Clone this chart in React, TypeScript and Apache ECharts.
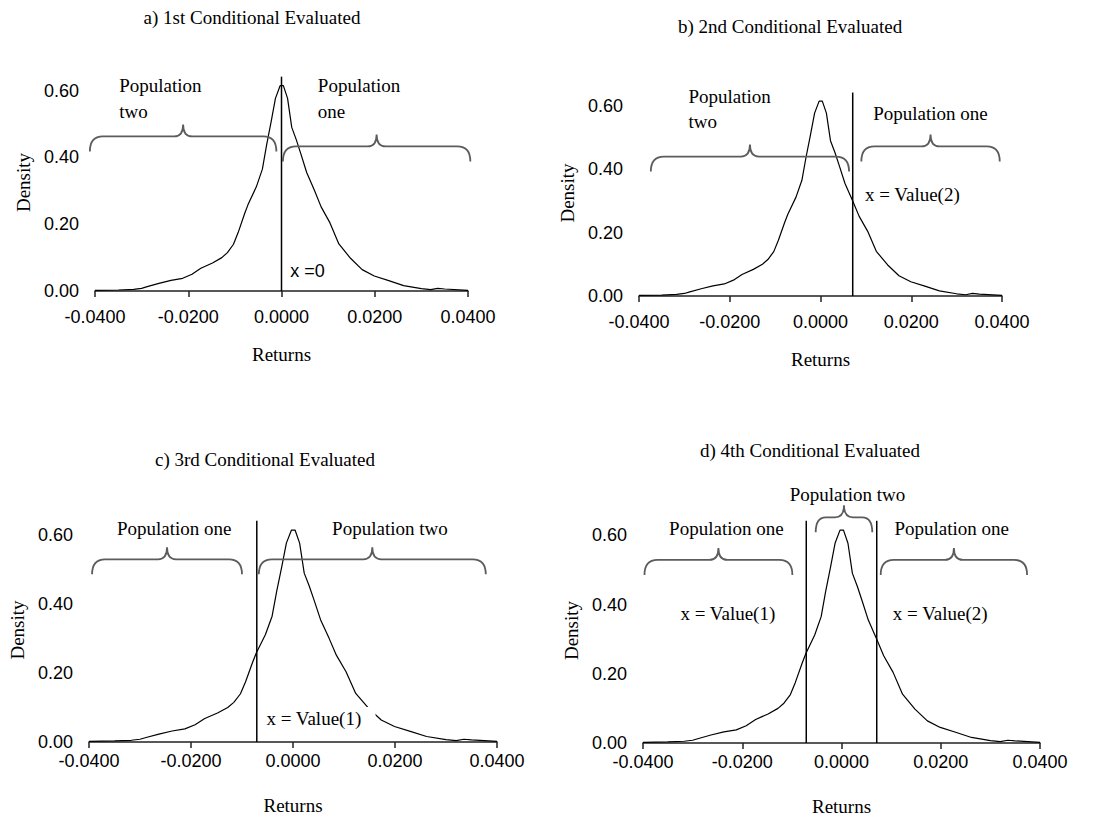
import React, { useEffect, useRef } from "react";
import * as echarts from "echarts";

// ---- Data ----
const returnsX = [
  -0.04, -0.035, -0.0317, -0.03, -0.0288, -0.0263, -0.0237, -0.0212, -0.0192, -0.0173,
  -0.0148, -0.0128, -0.0116, -0.0103, -0.0093, -0.0079, -0.0072, -0.0054, -0.0041, -0.0032,
  -0.0022, -0.0013, -0.0003, 0.0004, 0.0013, 0.0022, 0.0032, 0.0041, 0.0054, 0.0071,
  0.0085, 0.0104, 0.0123, 0.0148, 0.0173, 0.0199, 0.023, 0.0262, 0.03, 0.032,
  0.0335, 0.035, 0.04,
];
const densityY = [
  0.002, 0.003, 0.005, 0.008, 0.013, 0.023, 0.032, 0.038, 0.05, 0.068,
  0.084, 0.1, 0.115, 0.14, 0.175, 0.232, 0.258, 0.312, 0.365, 0.437,
  0.509, 0.577, 0.615, 0.615, 0.577, 0.49, 0.452, 0.413, 0.355, 0.3,
  0.252, 0.204, 0.141, 0.098, 0.064, 0.045, 0.031, 0.016, 0.007, 0.004,
  0.008, 0.006, 0.002,
];
const xTickValues = [-0.04, -0.02, 0, 0.02, 0.04];
const yTickValues = [0, 0.2, 0.4, 0.6];
const value1 = -0.0071;
const value2 = 0.0071;
const panelTitles = [
  "a) 1st Conditional Evaluated",
  "b) 2nd Conditional Evaluated",
  "c) 3rd Conditional Evaluated",
  "d) 4th Conditional Evaluated",
];
const cutoffs = [[0], [value2], [value1], [value1, value2]];
const lineTop = 0.642;

// ---- Layout / annotations (positions, not data) ----
const SERIF = "'Liberation Serif', 'Times New Roman', serif";
const SANS = "'Liberation Sans', Arial, sans-serif";

const panelLayout = [
  { grid: { left: 95, top: 74, width: 373, height: 217 }, title: [252, 17], labelMargin: 17 },
  { grid: { left: 639, top: 90, width: 363, height: 206 }, title: [790, 26], labelMargin: 17 },
  { grid: { left: 89, top: 518, width: 408, height: 224 }, title: [265, 459], labelMargin: 10 },
  { grid: { left: 643, top: 518, width: 397, height: 225 }, title: [810, 450], labelMargin: 10 },
];

type Ann =
  | { kind: "brace"; x1: number; x2: number; y: number; r?: number }
  | { kind: "text"; text: string; x: number; y: number; align: "left" | "center"; sans?: boolean; bg?: boolean };

const annotations: Ann[][] = [
  [
    { kind: "text", text: "Population", x: -0.0348, y: 0.616, align: "left" },
    { kind: "text", text: "two", x: -0.0348, y: 0.538, align: "left" },
    { kind: "text", text: "Population", x: 0.0078, y: 0.616, align: "left" },
    { kind: "text", text: "one", x: 0.0078, y: 0.538, align: "left" },
    { kind: "brace", x1: -0.0411, x2: -0.0011, y: 0.463 },
    { kind: "brace", x1: 0.0003, x2: 0.0405, y: 0.433 },
    { kind: "text", text: "x =0", x: 0.0019, y: 0.061, align: "left", sans: true },
  ],
  [
    { kind: "text", text: "Population", x: -0.0291, y: 0.63, align: "left" },
    { kind: "text", text: "two", x: -0.0291, y: 0.551, align: "left" },
    { kind: "text", text: "Population one", x: 0.0116, y: 0.577, align: "left" },
    { kind: "brace", x1: -0.0374, x2: 0.0063, y: 0.44 },
    { kind: "brace", x1: 0.009, x2: 0.0395, y: 0.472 },
    { kind: "text", text: "x = Value(2)", x: 0.0098, y: 0.321, align: "left" },
  ],
  [
    { kind: "text", text: "Population one", x: -0.0233, y: 0.62, align: "center" },
    { kind: "text", text: "Population two", x: 0.019, y: 0.62, align: "center" },
    { kind: "brace", x1: -0.0394, x2: -0.01, y: 0.53 },
    { kind: "brace", x1: -0.0067, x2: 0.0378, y: 0.53 },
    { kind: "text", text: "x = Value(1)", x: -0.0056, y: 0.068, align: "left", bg: true },
  ],
  [
    { kind: "text", text: "Population two", x: 0.0012, y: 0.718, align: "center" },
    { kind: "text", text: "Population one", x: -0.0232, y: 0.62, align: "center" },
    { kind: "text", text: "Population one", x: 0.0222, y: 0.62, align: "center" },
    { kind: "brace", x1: -0.0397, x2: -0.0099, y: 0.529 },
    { kind: "brace", x1: -0.0052, x2: 0.0062, y: 0.652, r: 10 },
    { kind: "brace", x1: 0.0079, x2: 0.0374, y: 0.529 },
    { kind: "text", text: "x = Value(1)", x: -0.0229, y: 0.375, align: "center" },
    { kind: "text", text: "x = Value(2)", x: 0.0199, y: 0.375, align: "center" },
  ],
];

// ---- Curly brace shape ----
let braceRegistered = false;
function registerBrace() {
  if (braceRegistered) return;
  const Brace = (echarts.graphic as any).extendShape({
    type: "brace",
    shape: { x1: 0, x2: 100, y: 0, h: 15, t: 12, r: 13, rt: 9 },
    buildPath(ctx: any, s: any) {
      const xm = (s.x1 + s.x2) / 2;
      ctx.moveTo(s.x1, s.y + s.h);
      ctx.quadraticCurveTo(s.x1, s.y, s.x1 + s.r, s.y);
      ctx.lineTo(xm - s.rt, s.y);
      ctx.quadraticCurveTo(xm, s.y, xm, s.y - s.t);
      ctx.moveTo(xm, s.y - s.t);
      ctx.quadraticCurveTo(xm, s.y, xm + s.rt, s.y);
      ctx.lineTo(s.x2 - s.r, s.y);
      ctx.quadraticCurveTo(s.x2, s.y, s.x2, s.y + s.h);
    },
  });
  (echarts.graphic as any).registerShape("brace", Brace);
  braceRegistered = true;
}

export default function App() {
  const ref = useRef<HTMLDivElement>(null);

  useEffect(() => {
    if (!ref.current) return;
    registerBrace();
    const chart = echarts.init(ref.current, undefined, { renderer: "svg" });
    const curve = returnsX.map((x, i) => [x, densityY[i]]);

    const grids = panelLayout.map((p) => ({ ...p.grid, outerBoundsMode: "none" }));
    const xAxes = panelLayout.map((p, i) => ({
      type: "value",
      gridIndex: i,
      min: xTickValues[0],
      max: xTickValues[xTickValues.length - 1],
      interval: 0.02,
      name: "Returns",
      nameLocation: "middle",
      nameGap: 54,
      nameTextStyle: { fontFamily: SERIF, fontSize: 19, color: "#000" },
      axisLine: { show: true, lineStyle: { color: "#222", width: 1.5 } },
      axisTick: { show: true, length: 6, lineStyle: { color: "#222", width: 1.5 } },
      splitLine: { show: false },
      axisLabel: {
        margin: p.labelMargin,
        fontFamily: SANS,
        fontSize: 18,
        color: "#000",
        formatter: (v: number) => v.toFixed(4),
      },
    }));
    const yAxes = panelLayout.map((_, i) => ({
      type: "value",
      gridIndex: i,
      min: yTickValues[0],
      max: 0.65,
      interval: 0.2,
      name: "Density",
      nameLocation: "middle",
      nameGap: 62,
      nameTextStyle: { fontFamily: SERIF, fontSize: 19, color: "#000" },
      axisLine: { show: false },
      axisTick: { show: false },
      splitLine: { show: false },
      axisLabel: {
        margin: 16,
        showMaxLabel: false,
        fontFamily: SANS,
        fontSize: 18,
        color: "#000",
        formatter: (v: number) => v.toFixed(2),
      },
    }));

    const series: any[] = [];
    panelLayout.forEach((_, i) => {
      series.push({
        type: "line",
        name: "Density",
        xAxisIndex: i,
        yAxisIndex: i,
        data: curve,
        symbol: "none",
        clip: false,
        lineStyle: { color: "#000", width: 1.2 },
        z: 3,
      });
      cutoffs[i].forEach((c) => {
        series.push({
          type: "line",
          xAxisIndex: i,
          yAxisIndex: i,
          data: [
            [c, 0],
            [c, lineTop],
          ],
          symbol: "none",
          clip: false,
          lineStyle: { color: "#000", width: 1.5 },
          z: 4,
        });
      });
    });

    chart.setOption({
      animation: false,
      backgroundColor: "#fff",
      grid: grids,
      xAxis: xAxes,
      yAxis: yAxes,
      series,
    });

    const graphics: any[] = [];
    panelLayout.forEach((p, i) => {
      graphics.push({
        type: "text",
        x: p.title[0],
        y: p.title[1],
        style: {
          text: panelTitles[i],
          fontFamily: SERIF,
          fontSize: 19,
          fill: "#000",
          align: "center",
          verticalAlign: "middle",
        },
      });
      annotations[i].forEach((a) => {
        if (a.kind === "brace") {
          const p1 = chart.convertToPixel({ gridIndex: i } as any, [a.x1, a.y]) as number[];
          const p2 = chart.convertToPixel({ gridIndex: i } as any, [a.x2, a.y]) as number[];
          graphics.push({
            type: "brace",
            shape: { x1: p1[0], x2: p2[0], y: p1[1], h: 15, t: 12, r: a.r ?? 13, rt: 9 },
            style: { stroke: "#5c5c5c", lineWidth: 1.8, fill: "none" },
            z: 10,
          });
        } else {
          const pt = chart.convertToPixel({ gridIndex: i } as any, [a.x, a.y]) as number[];
          graphics.push({
            type: "text",
            x: pt[0],
            y: pt[1],
            z: 20,
            style: {
              text: a.text,
              fontFamily: a.sans ? SANS : SERIF,
              fontSize: a.sans ? 18 : 19,
              fill: "#000",
              align: a.align,
              verticalAlign: "middle",
              backgroundColor: a.bg ? "#fff" : undefined,
              padding: a.bg ? [2, 14, 2, 2] : undefined,
            },
          });
        }
      });
    });
    chart.setOption({ graphic: graphics });

    return () => chart.dispose();
  }, []);

  return (
    <div
      ref={ref}
      style={{ position: "absolute", left: 0, top: 0, width: 1103, height: 821, background: "#fff" }}
    />
  );
}
